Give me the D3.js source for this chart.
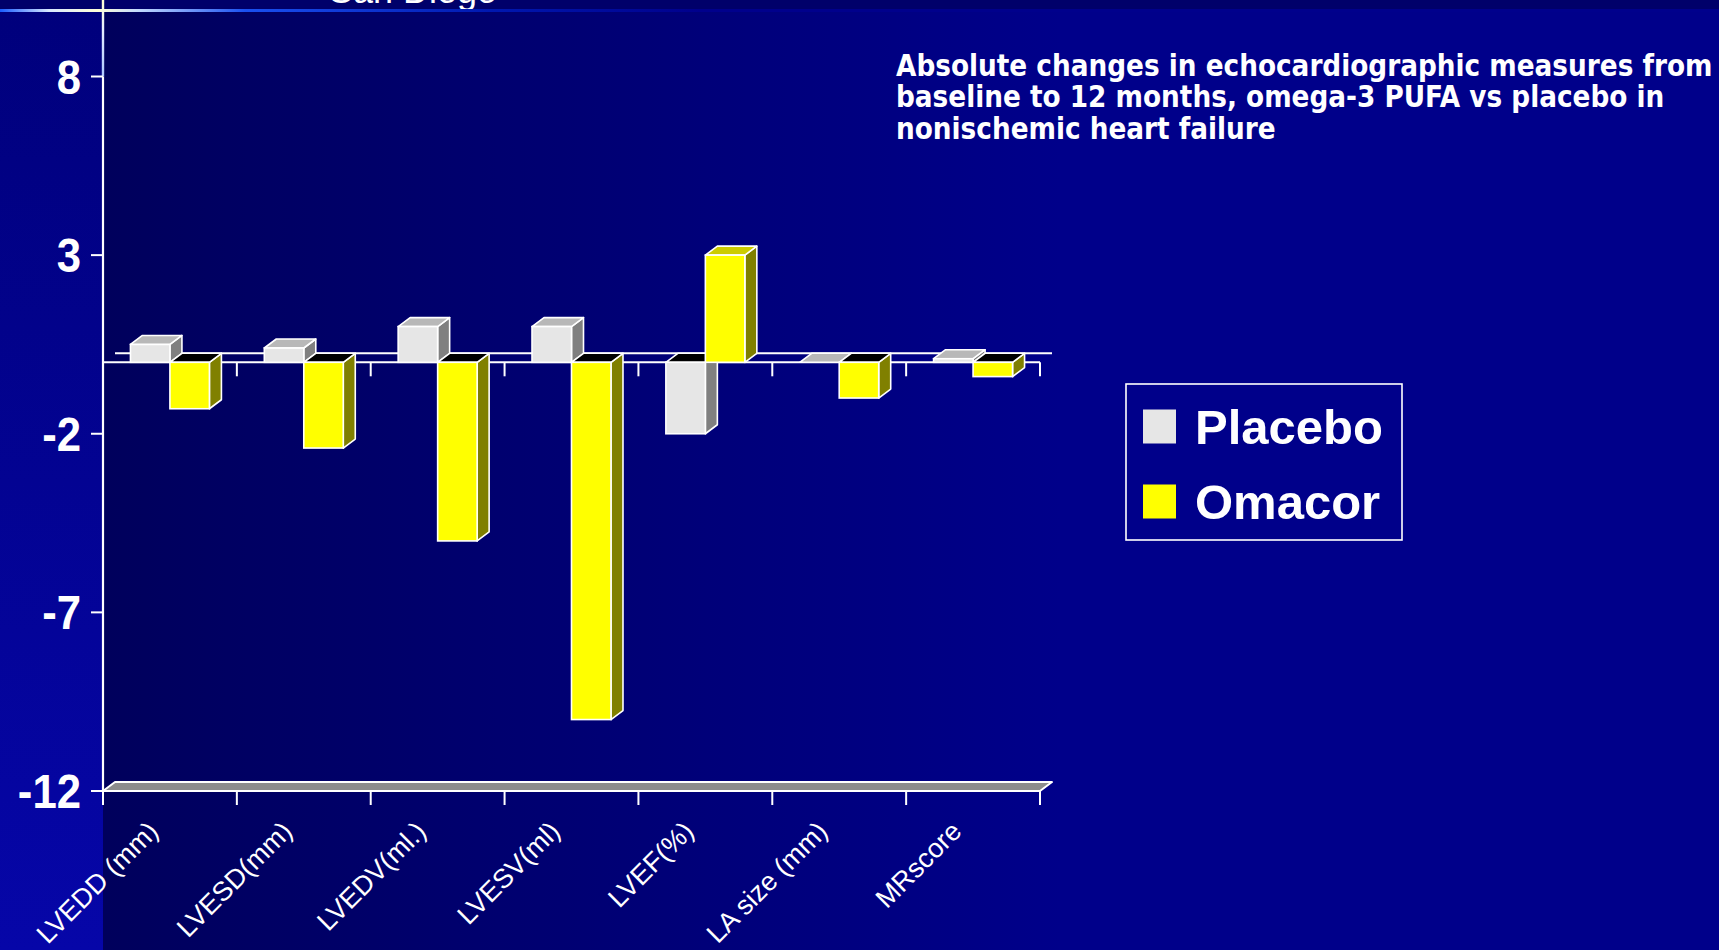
<!DOCTYPE html>
<html>
<head>
<meta charset="utf-8">
<script src="https://cdn.jsdelivr.net/npm/d3@7"></script>
<style>
  html, body { margin: 0; padding: 0; background: #00008a; overflow: hidden; }
  svg { display: block; }
</style>
</head>
<body>
<svg id="chart" width="1719" height="950"></svg>
<script>
// Echocardiographic changes, baseline to 12 months
const categories = ["LVEDD (mm)", "LVESD(mm)", "LVEDV(ml.)", "LVESV(ml)", "LVEF(%)", "LA size (mm)", "MRscore"];
const seriesNames = ["Placebo", "Omacor"];
const placebo = [0.5, 0.4, 1.0, 1.0, -2.0, 0.0, 0.1];
const omacor = [-1.3, -2.4, -5.0, -10.0, 3.0, -1.0, -0.4];
const yTicks = [8, 3, -2, -7, -12];
const titleLines = [
  "Absolute changes in echocardiographic measures from",
  "baseline to 12 months, omega-3 PUFA vs placebo in",
  "nonischemic heart failure"
];
const headerText = "San Diego";

const W = 1719, H = 950;
const svg = d3.select("#chart");
const defs = svg.append("defs");

// ---- slide background ----
const plotBg = defs.append("linearGradient").attr("id", "plotBg")
  .attr("gradientUnits", "userSpaceOnUse").attr("x1", 103).attr("x2", 1060).attr("y1", 0).attr("y2", 0);
plotBg.append("stop").attr("offset", 0).attr("stop-color", "#00005c");
plotBg.append("stop").attr("offset", 1).attr("stop-color", "#00008a");

const leftBg = defs.append("linearGradient").attr("id", "leftBg")
  .attr("gradientUnits", "userSpaceOnUse").attr("x1", 0).attr("x2", 0).attr("y1", 10).attr("y2", H);
leftBg.append("stop").attr("offset", 0).attr("stop-color", "#00007c");
leftBg.append("stop").attr("offset", 1).attr("stop-color", "#0606a8");

const rule = defs.append("linearGradient").attr("id", "rule")
  .attr("gradientUnits", "userSpaceOnUse").attr("x1", 0).attr("x2", 700).attr("y1", 0).attr("y2", 0);
[[0, "#1a5cff"], [0.07, "#d8e8ff"], [0.14, "#ffffd8"], [0.2, "#c0d8ff"], [0.35, "#1a50f0"], [0.7, "#0018b0"], [1, "#00008c"]]
  .forEach(([o, c]) => rule.append("stop").attr("offset", o).attr("stop-color", c));

const vrule = defs.append("linearGradient").attr("id", "vrule")
  .attr("gradientUnits", "userSpaceOnUse").attr("x1", 0).attr("x2", 0).attr("y1", 0).attr("y2", 80);
vrule.append("stop").attr("offset", 0).attr("stop-color", "#ffffd0");
vrule.append("stop").attr("offset", 0.35).attr("stop-color", "#e8f0ff");
vrule.append("stop").attr("offset", 1).attr("stop-color", "#a8c4ff");

svg.append("rect").attr("width", W).attr("height", H).attr("fill", "#00008a");
svg.append("rect").attr("x", 0).attr("y", 10).attr("width", 103).attr("height", H - 10).attr("fill", "url(#leftBg)");
svg.append("rect").attr("x", 103).attr("y", 10).attr("width", W - 103).attr("height", H - 10).attr("fill", "url(#plotBg)");
svg.append("rect").attr("x", 0).attr("y", 0).attr("width", W).attr("height", 10).attr("fill", "#00006a");

// header text, mostly above the slide edge
svg.append("text").attr("x", 329).attr("y", 3)
  .attr("font-family", "'Liberation Sans', Arial, sans-serif").attr("font-size", 36)
  .attr("fill", "#ffffff").text(headerText);

svg.append("rect").attr("x", 0).attr("y", 9).attr("width", W).attr("height", 3).attr("fill", "url(#rule)");

// ---- scales ----
const y = d3.scaleLinear().domain([-12, 8]).range([791, 76.5]);
const x = d3.scaleBand().domain(categories).range([103, 1040]).paddingInner(0.41).paddingOuter(0.205);
const xs = d3.scaleBand().domain(seriesNames).range([0, x.bandwidth()]);
const step = x.step();
const left = x.range()[0], right = x.range()[1];
const dx = 12, dy = -9;           // depth offset of the 3D view
const y0 = y(0), yFloor = y(-12);

const white = "#ffffff";

// vertical slide rule above the axis
svg.append("rect").attr("x", 101.8).attr("y", 0).attr("width", 2.4).attr("height", y(8)).attr("fill", "url(#vrule)");

// floor slab
const floorPts = [[left, yFloor], [right, yFloor], [right + dx, yFloor + dy], [left + dx, yFloor + dy]];
svg.append("polygon").attr("points", floorPts.map(p => p.join(",")).join(" "))
  .attr("fill", "#8c8c8c").attr("stroke", white).attr("stroke-width", 2).attr("stroke-linejoin", "round");

// back zero line
svg.append("line").attr("x1", left + dx).attr("x2", right + dx).attr("y1", y0 + dy).attr("y2", y0 + dy)
  .attr("stroke", white).attr("stroke-width", 2);

// value axis
svg.append("line").attr("x1", 103).attr("x2", 103).attr("y1", y(8)).attr("y2", yFloor)
  .attr("stroke", white).attr("stroke-width", 2.2);

const yAxisG = svg.append("g");
yAxisG.selectAll("line.tick").data(yTicks).join("line")
  .attr("class", "tick")
  .attr("x1", 91).attr("x2", 103).attr("y1", d => y(d)).attr("y2", d => y(d))
  .attr("stroke", white).attr("stroke-width", 2);
yAxisG.selectAll("text").data(yTicks).join("text")
  .attr("transform", d => `translate(81,${y(d) + 17}) scale(0.95,1.06)`)
  .attr("text-anchor", "end")
  .attr("font-family", "'Liberation Sans', Arial, sans-serif")
  .attr("font-weight", "bold").attr("font-size", 46)
  .attr("fill", white)
  .text(d => d);

// front zero line and category ticks
svg.append("line").attr("x1", left).attr("x2", right).attr("y1", y0).attr("y2", y0)
  .attr("stroke", white).attr("stroke-width", 2);
const boundaries = d3.range(categories.length + 1).map(i => left + i * step);
svg.append("g").selectAll("line").data(boundaries.slice(1)).join("line")
  .attr("x1", d => d).attr("x2", d => d).attr("y1", y0).attr("y2", y0 + 14)
  .attr("stroke", white).attr("stroke-width", 2);
svg.append("g").selectAll("line").data(boundaries).join("line")
  .attr("x1", d => d).attr("x2", d => d).attr("y1", yFloor).attr("y2", yFloor + 14)
  .attr("stroke", white).attr("stroke-width", 2);

// ---- 3D columns ----
const palette = {
  Placebo: { front: "#e6e6e6", top: "#b8b8b8", side: "#808080" },
  Omacor:  { front: "#ffff00", top: "#cccc00", side: "#808000" }
};
const rows = [];
categories.forEach((c, i) => {
  rows.push({ cat: c, series: "Placebo", value: placebo[i] });
  rows.push({ cat: c, series: "Omacor", value: omacor[i] });
});

const poly = pts => pts.map(p => p.join(",")).join(" ");
const barsG = svg.append("g");
rows.forEach(d => {
  const x0 = x(d.cat) + xs(d.series), w = xs.bandwidth();
  const yv = y(d.value);
  const yT = Math.min(yv, y0), yB = Math.max(yv, y0);
  const col = palette[d.series];
  const g = barsG.append("g");
  // side face
  g.append("polygon")
    .attr("points", poly([[x0 + w, yT], [x0 + w + dx, yT + dy], [x0 + w + dx, yB + dy], [x0 + w, yB]]))
    .attr("fill", col.side).attr("stroke", white).attr("stroke-width", 1.6).attr("stroke-linejoin", "round");
  // top face: lit for positive columns, dark opening for negative ones
  g.append("polygon")
    .attr("points", poly([[x0, yT], [x0 + w, yT], [x0 + w + dx, yT + dy], [x0 + dx, yT + dy]]))
    .attr("fill", d.value < 0 ? "#000000" : col.top).attr("stroke", white).attr("stroke-width", 1.6).attr("stroke-linejoin", "round");
  // front face
  if (yB - yT > 0.5) {
    g.append("rect").attr("x", x0).attr("y", yT).attr("width", w).attr("height", yB - yT)
      .attr("fill", col.front).attr("stroke", white).attr("stroke-width", 1.6);
  }
});

// category labels
svg.append("g").selectAll("text").data(categories).join("text")
  .attr("transform", d => `translate(${x(d) + x.bandwidth() / 2 - 10},833) rotate(-45)`)
  .attr("text-anchor", "end")
  .attr("font-family", "'Liberation Sans', Arial, sans-serif")
  .attr("font-size", 27)
  .attr("fill", white)
  .text(d => d);

// ---- title ----
const titleG = svg.append("g");
const tl = titleG.selectAll("text").data(titleLines).join("text")
  .attr("x", 896).attr("y", (d, i) => 75.5 + i * 31.8)
  .attr("font-family", "'DejaVu Sans', Verdana, sans-serif")
  .attr("font-stretch", "condensed")
  .attr("font-weight", "bold").attr("font-size", 27)
  .attr("fill", white)
  .text(d => d);
const firstLen = tl.node().getComputedTextLength();
if (firstLen > 0) tl.attr("font-size", 27 * 817 / firstLen);

// ---- legend ----
const lg = svg.append("g");
lg.append("rect").attr("x", 1126).attr("y", 384).attr("width", 276).attr("height", 156)
  .attr("fill", "none").attr("stroke", white).attr("stroke-width", 1.6);
const legendRows = lg.selectAll("g").data(seriesNames).join("g")
  .attr("transform", (d, i) => `translate(0,${i * 75})`);
legendRows.append("rect").attr("x", 1143).attr("y", 409.5).attr("width", 33).attr("height", 34)
  .attr("fill", d => palette[d].front);
legendRows.append("text").attr("x", 1195).attr("y", 443.5)
  .attr("font-family", "'Liberation Sans', Arial, sans-serif")
  .attr("font-weight", "bold").attr("font-size", 49)
  .attr("fill", white)
  .text(d => d);
</script>
</body>
</html>
